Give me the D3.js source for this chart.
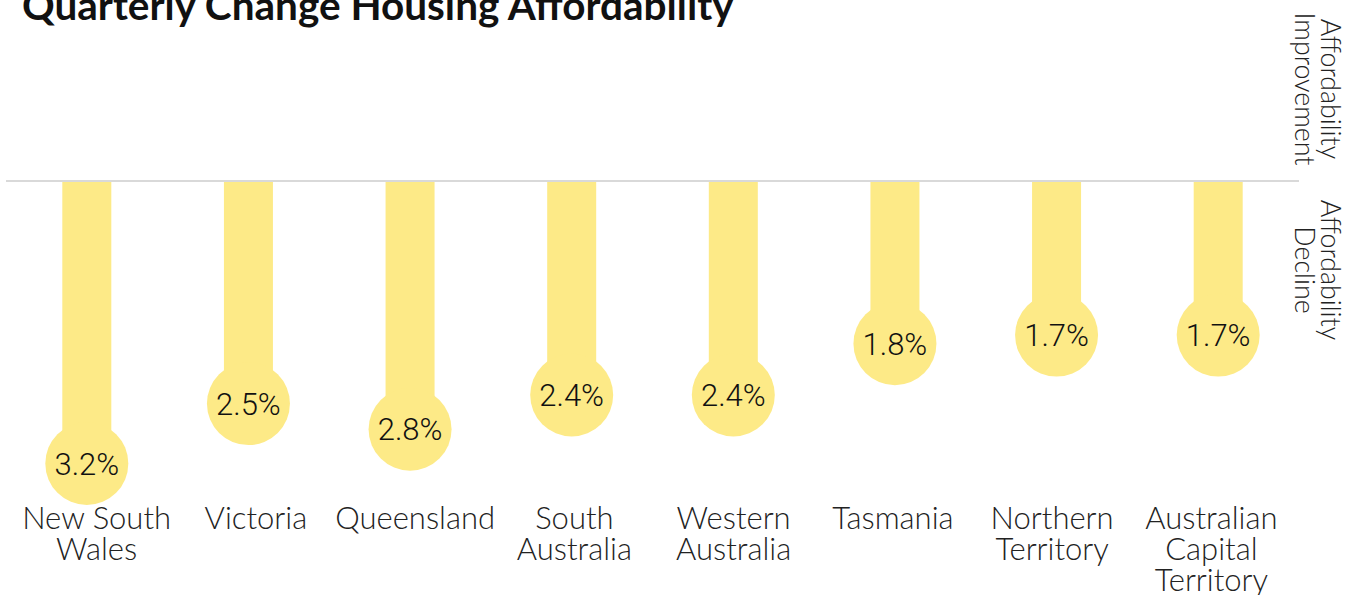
<!DOCTYPE html>
<html>
<head>
<meta charset="utf-8">
<script src="https://cdn.jsdelivr.net/npm/d3@7"></script>
<style>
  html, body { margin: 0; padding: 0; background: #ffffff; }
  svg { display: block; }
</style>
</head>
<body>
<svg id="chart" width="1359" height="595"></svg>
<script>
// ---- Data ----
const categories = ["New South Wales", "Victoria", "Queensland", "South Australia",
                    "Western Australia", "Tasmania", "Northern Territory", "Australian Capital Territory"];
const categoryLines = [["New South", "Wales"], ["Victoria"], ["Queensland"], ["South", "Australia"],
                       ["Western", "Australia"], ["Tasmania"], ["Northern", "Territory"], ["Australian", "Capital", "Territory"]];
const values = [3.2, 2.5, 2.8, 2.4, 2.4, 1.8, 1.7, 1.7];   // % decline in affordability
const valueLabels = ["3.2%", "2.5%", "2.8%", "2.4%", "2.4%", "1.8%", "1.7%", "1.7%"];
const title = "Quarterly Change Housing Affordability";
const sideLabelTop = ["Affordability", "Improvement"];
const sideLabelBottom = ["Affordability", "Decline"];

// ---- Layout ----
const W = 1359, H = 595;
const baseY = 181;
const barColor = "#fdea87";
const svg = d3.select("#chart");

const x = d3.scaleBand().domain(categories).range([6, 1299]).padding(0);
const xLab = d3.scaleBand().domain(categories).range([17, 1291]).padding(0);
const y = d3.scaleLinear().domain([-0.1, 3.2]).range([baseY, 463.5]);
const barW = 49, r = 41.5;

// Title
svg.append("text")
  .attr("x", 22).attr("y", 20)
  .attr("font-family", "Lato, 'Liberation Sans', sans-serif")
  .attr("font-weight", 700)
  .attr("font-size", 40.5)
  .attr("fill", "#111")
  .text(title);

// Zero line
svg.append("line")
  .attr("x1", 6).attr("x2", 1299)
  .attr("y1", baseY).attr("y2", baseY)
  .attr("stroke", "#d9d9d9").attr("stroke-width", 2);

const data = categories.map((c, i) => ({c, v: values[i], lab: valueLabels[i], lines: categoryLines[i]}));

// Bars
svg.selectAll("rect.bar").data(data).join("rect")
  .attr("class", "bar")
  .attr("x", d => x(d.c) + x.bandwidth() / 2 - barW / 2)
  .attr("y", baseY + 1)
  .attr("width", barW)
  .attr("height", d => y(d.v) - baseY - 1)
  .attr("fill", barColor);

// Circles
svg.selectAll("circle.dot").data(data).join("circle")
  .attr("class", "dot")
  .attr("cx", d => x(d.c) + x.bandwidth() / 2)
  .attr("cy", d => y(d.v))
  .attr("r", r)
  .attr("fill", barColor);

// Value labels
svg.selectAll("text.val").data(data).join("text")
  .attr("class", "val")
  .attr("x", d => x(d.c) + x.bandwidth() / 2)
  .attr("y", d => y(d.v) + 11)
  .attr("text-anchor", "middle")
  .attr("font-family", "Roboto, 'Liberation Sans', sans-serif")
  .attr("font-weight", 300)
  .attr("font-size", 31)
  .attr("fill", "#111")
  .text(d => d.lab);

// Category labels
const catG = svg.selectAll("text.cat").data(data).join("text")
  .attr("class", "cat")
  .attr("text-anchor", "middle")
  .attr("font-family", "Lato, sans-serif")
  .attr("font-weight", 300)
  .attr("font-size", 31)
  .attr("fill", "#222");
catG.selectAll("tspan").data(d => d.lines.map(l => ({l, c: d.c}))).join("tspan")
  .attr("x", d => xLab(d.c) + xLab.bandwidth() / 2)
  .attr("y", (d, i) => 529 + i * 31)
  .text(d => d.l);

// Side labels (rotated)
function sideLabel(lines, cy) {
  const t = svg.append("text")
    .attr("transform", `translate(1321,${cy}) rotate(90)`)
    .attr("text-anchor", "middle")
    .attr("font-family", "Lato, sans-serif")
    .attr("font-weight", 300)
    .attr("font-size", 26.8)
    .attr("fill", "#222");
  lines.forEach((l, i) => t.append("tspan").attr("x", 0).attr("y", i * 26).text(l));
}
sideLabel(sideLabelTop, 89);
sideLabel(sideLabelBottom, 270);
</script>
</body>
</html>
